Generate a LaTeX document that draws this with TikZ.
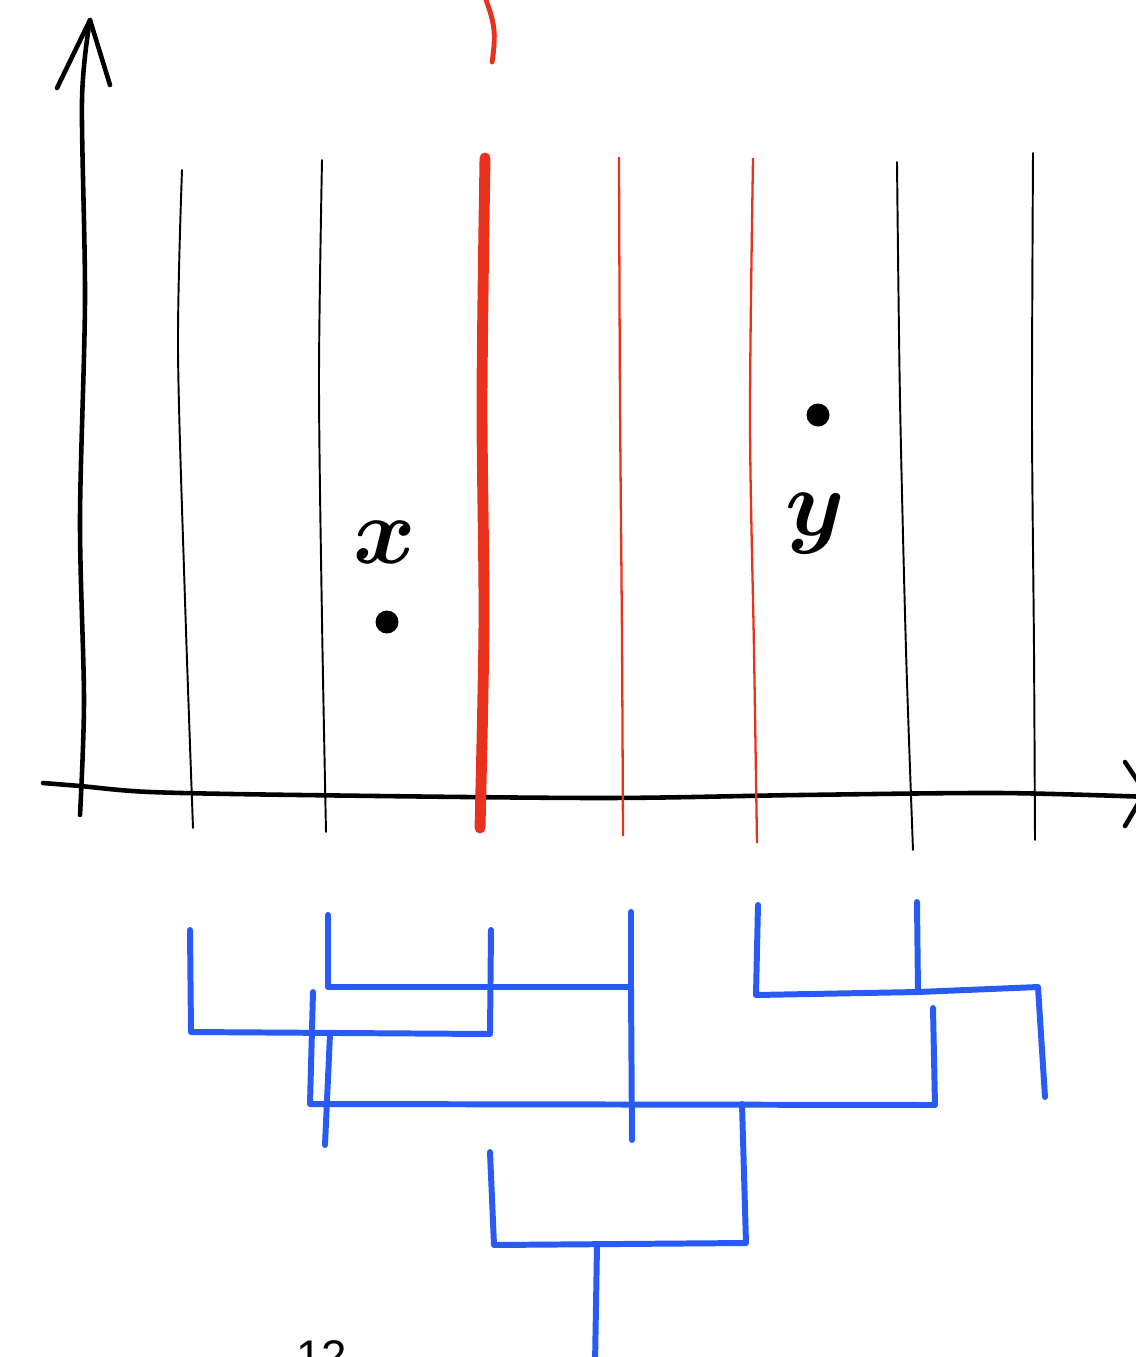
\documentclass[tikz,border=0pt]{standalone}
\usepackage{fontspec}
\newfontfamily\pagefont{Liberation Sans}
\definecolor{penred}{RGB}{232,50,30}
\definecolor{penblue}{RGB}{40,90,245}

\begin{document}
\begin{tikzpicture}[x=0.02cm,y=-0.02cm,axs/.style={line width=2.6pt,black,line cap=round,line join=round},thn/.style={line width=1.1pt,black,line cap=round},rdk/.style={line width=6.2pt,penred,line cap=round},rdn/.style={line width=1.3pt,penred},blu/.style={line width=3.4pt,penblue,line cap=round,line join=round},dot/.style={circle,fill=black,inner sep=0pt,minimum size=0.46cm},lbl/.style={scale=5.4,font=\boldmath}]
\useasboundingbox (0,0) rectangle (1136,1357);

%axes
\draw [axs] plot [smooth, tension=.5] coordinates { (80,815) (84,700) (80,520) (85,300) (82,100) (90,20) };
\draw [axs] (57,88) to (90,20) to (110,85);
\draw [axs] plot [smooth, tension=.5] coordinates { (43,783) (80,786) (150,792) (300,795) (600,798) (800,795) (1000,793) (1150,797) };
\draw [axs] (1125,762) to (1145,792) to (1125,826);

%black strips
\draw [thn] plot [smooth, tension=.5] coordinates { (182,170) (178,350) (185,600) (193,828) };
\draw [thn] plot [smooth, tension=.5] coordinates { (322,160) (319,380) (322,620) (326,832) };
\draw [thn] plot [smooth, tension=.5] coordinates { (897,162) (900,400) (906,650) (913,850) };
\draw [thn] plot [smooth, tension=.5] coordinates { (1033,153) (1032,420) (1034,650) (1035,840) };

%red strips
\draw [rdk] plot [smooth, tension=.5] coordinates { (485,158) (482,400) (484,620) (480,828) };
\draw [line width=2.8pt,penred,line cap=round] plot [smooth, tension=.8] coordinates { (486,0) (494,30) (492,62) };
\draw [rdn] plot [smooth, tension=.5] coordinates { (619,157) (620,400) (622,640) (623,836) };
\draw [rdn] plot [smooth, tension=.5] coordinates { (753,158) (750,420) (754,650) (757,843) };

%points
\node[dot] at (387,622) (px){};
\node[lbl] at (385,542) (lx){$x$};
\node[dot] at (818,415) (py){};
\node[lbl] at (815,524) (ly){$y$};

%blue tree
\coordinate (a1) at (190,930);
\coordinate (a2) at (191,1032);
\coordinate (a3) at (490,1034);
\coordinate (a4) at (491,930);
\draw [blu] (a1) to (a2) to (a3) to (a4);

\coordinate (b1) at (328,915);
\coordinate (b2) at (328,987);
\coordinate (b3) at (631,987);
\coordinate (b4) at (631,912);
\coordinate (b5) at (632,1140);
\draw [blu] (b1) to (b2) to (b3) to (b4);
\draw [blu] (b3) to (b5);

\coordinate (c1) at (313,992);
\coordinate (c2) at (310,1104);
\coordinate (c3) at (935,1105);
\coordinate (c4) at (933,1008);
\draw [blu] (c1) to (c2) to (c3) to (c4);

\coordinate (d1) at (330,1034);
\coordinate (d2) at (325,1145);
\draw [blu] (d1) to (d2);

\coordinate (e1) at (758,905);
\coordinate (e2) at (756,995);
\coordinate (e3) at (918,992);
\coordinate (e4) at (917,902);
\coordinate (e5) at (1038,987);
\coordinate (e6) at (1045,1097);
\draw [blu] (e1) to (e2) to (e3) to (e4);
\draw [blu] (e3) to (e5) to (e6);

\coordinate (f1) at (490,1152);
\coordinate (f2) at (494,1245);
\coordinate (f3) at (746,1243);
\coordinate (f4) at (742,1104);
\draw [blu] (f1) to (f2) to (f3) to (f4);

\coordinate (g1) at (597,1246);
\coordinate (g2) at (595,1365);
\draw [blu] (g1) to (g2);

%page number
\node[anchor=base,font=\pagefont\fontsize{26}{30}\selectfont] at (322,1372) (pg){12};
\end{tikzpicture}
\end{document}
